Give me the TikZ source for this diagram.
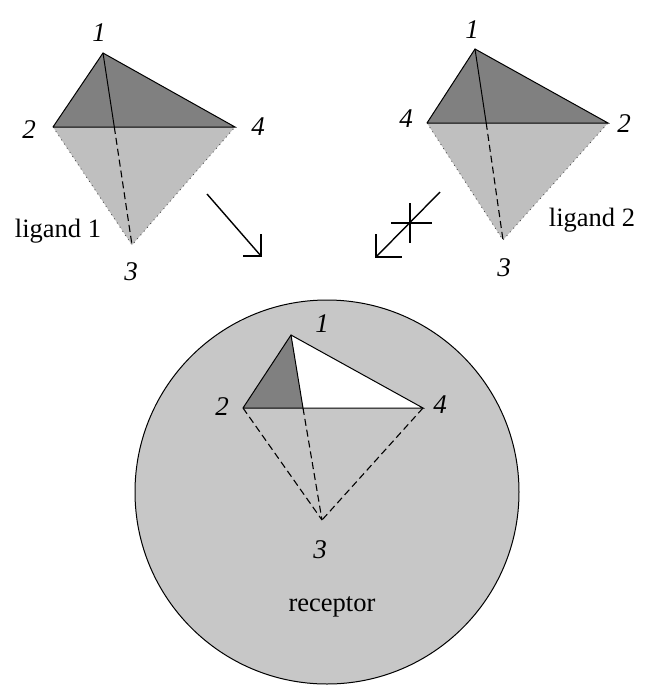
\documentclass[tikz,border=0pt]{standalone}
\usepackage{fontspec}
\setmainfont{Liberation Serif}
\begin{document}
\begin{tikzpicture}[x=1pt,y=-1pt,
  darkface/.style={fill=black!50},
  lightface/.style={fill=black!25},
  edge/.style={draw=black,line width=1pt},
  hidden/.style={draw=black,line width=1.1pt,dash pattern=on 7pt off 4pt},
  faint/.style={draw=black!70,line width=0.8pt,dash pattern=on 1pt off 4pt},
  num/.style={font=\fontsize{27}{27}\selectfont\itshape,inner sep=0pt},
  txt/.style={font=\fontsize{26.5}{26.5}\selectfont,inner sep=0pt},
  shaft/.style={line width=1.4pt},
  head/.style={line width=2pt}]
\useasboundingbox (0,0) rectangle (645,686);
% ---- ligand 1 ----
\coordinate (a1) at (103,53);
\coordinate (a2) at (53,127);
\coordinate (a4) at (235,127);
\coordinate (a3) at (132,245);
\coordinate (ax) at (114.3,127);
\fill[lightface] (a2) -- (a4) -- (a3) -- cycle;
\fill[darkface] (a1) -- (a2) -- (a4) -- cycle;
\draw[faint] (a2) -- (a3) -- (a4);
\draw[edge] (a2) -- (a1) -- (a4) -- (a2);
\draw[edge] (a1) -- (ax);
\draw[hidden] (ax) -- (a3);
\node[num] (la1) at (99,33) {1};
\node[num] (la2) at (29,130) {2};
\node[num] (la4) at (258,127) {4};
\node[num] (la3) at (131,272) {3};
\node[txt] (lig1) at (58,231) {ligand 1};
% ---- ligand 2 ----
\coordinate (b1) at (475,49);
\coordinate (b4) at (427,123);
\coordinate (b2) at (608,123);
\coordinate (b3) at (503,240);
\coordinate (bx) at (486.2,123);
\fill[lightface] (b4) -- (b2) -- (b3) -- cycle;
\fill[darkface] (b1) -- (b4) -- (b2) -- cycle;
\draw[faint] (b4) -- (b3) -- (b2);
\draw[edge] (b4) -- (b1) -- (b2) -- (b4);
\draw[edge] (b1) -- (bx);
\draw[hidden] (bx) -- (b3);
\node[num] (lb1) at (472,30) {1};
\node[num] (lb4) at (406,119) {4};
\node[num] (lb2) at (624,124) {2};
\node[num] (lb3) at (504,268) {3};
\node[txt] (lig2) at (592,220) {ligand 2};
% ---- arrows ----
\coordinate (p0) at (207,194);
\coordinate (p1) at (261,256);
\coordinate (p1h) at (243,256);
\coordinate (p1v) at (261,234);
\draw[shaft] (p0) -- (p1);
\draw[head] (p1h) -- (p1) -- (p1v);
\coordinate (q0) at (440,192);
\coordinate (q1) at (376,257);
\coordinate (q1h) at (402,257);
\coordinate (q1v) at (376,234);
\draw[shaft] (q0) -- (q1);
\draw[head] (q1v) -- (q1) -- (q1h);
\coordinate (cv0) at (410,203);
\coordinate (cv1) at (410,243);
\coordinate (ch0) at (391,223);
\coordinate (ch1) at (432,223);
\draw[head] (cv0) -- (cv1);
\draw[head] (ch0) -- (ch1);
% ---- receptor ----
\node[circle,draw=black,line width=1pt,fill=black!22,minimum size=384pt,inner sep=0pt] (rec) at (327,492) {};
\coordinate (c1) at (291,335);
\coordinate (c2) at (243,408);
\coordinate (c4) at (423,408);
\coordinate (c3) at (322,520);
\coordinate (cx) at (303,408);
\fill[white] (c1) -- (cx) -- (c4) -- cycle;
\fill[darkface] (c1) -- (c2) -- (cx) -- cycle;
\draw[edge] (c2) -- (c1) -- (c4) -- (c2);
\draw[edge] (c1) -- (cx);
\draw[hidden] (cx) -- (c3);
\draw[hidden] (c2) -- (c3);
\draw[hidden] (c4) -- (c3);
\node[num] (lc1) at (322,324) {1};
\node[num] (lc2) at (222,407) {2};
\node[num] (lc4) at (440,405) {4};
\node[num] (lc3) at (320,550) {3};
\node[txt] (recl) at (332,607) {receptor};
\end{tikzpicture}
\end{document}
